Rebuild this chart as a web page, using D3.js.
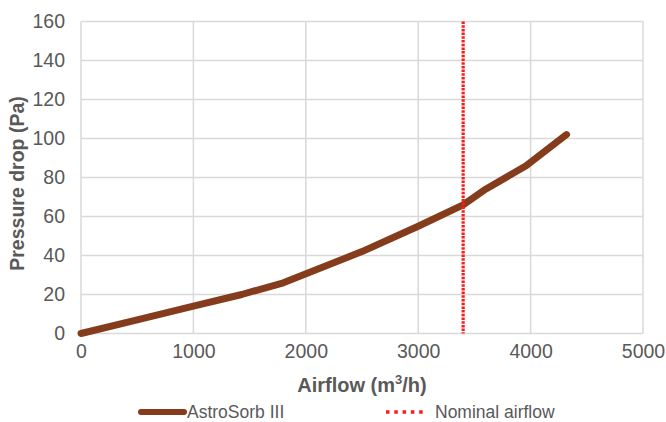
<!DOCTYPE html>
<html>
<head>
<meta charset="utf-8">
<script src="https://cdn.jsdelivr.net/npm/d3@7"></script>
<style>
  body { margin: 0; background: #fff; }
  text { font-family: "Liberation Sans", Arial, sans-serif; }
</style>
</head>
<body>
<svg id="chart" width="666" height="422"></svg>
<script>
// data
var airflow = [0, 500, 1000, 1430, 1800, 2500, 3000, 3400, 3600, 3960, 4320];
var pressure = [0, 7, 14, 20, 26, 42, 55, 66, 74, 86, 102];
var nominalAirflow = 3400;
var xTicks = [0, 1000, 2000, 3000, 4000, 5000];
var yTicks = [0, 20, 40, 60, 80, 100, 120, 140, 160];
var seriesNames = ["AstroSorb III", "Nominal airflow"];

var svg = d3.select('#chart');
// note: "top" is taken by window.top, so plot edges get their own names
var plotL = 81, plotR = 643, plotT = 21.5, plotB = 333.5;

var x = d3.scaleLinear().domain([0, 5000]).range([plotL, plotR]);
var y = d3.scaleLinear().domain([0, 160]).range([plotB, plotT]);

// grid
svg.append('g').selectAll('line').data(yTicks).enter().append('line')
    .attr('x1', plotL).attr('x2', plotR)
    .attr('y1', function(d) { return y(d); })
    .attr('y2', function(d) { return y(d); })
    .attr('stroke', '#d9d9d9').attr('stroke-width', 1.5);
svg.append('g').selectAll('line').data(xTicks).enter().append('line')
    .attr('y1', plotT).attr('y2', plotB)
    .attr('x1', function(d) { return x(d); })
    .attr('x2', function(d) { return x(d); })
    .attr('stroke', '#d9d9d9').attr('stroke-width', 1.5);

// tick labels
var yAxis = svg.append('g').attr('transform', 'translate(' + plotL + ',0)')
    .call(d3.axisLeft(y).tickValues(yTicks).tickSize(0).tickPadding(16));
var xAxis = svg.append('g').attr('transform', 'translate(0,' + plotB + ')')
    .call(d3.axisBottom(x).tickValues(xTicks).tickSize(0).tickPadding(11).tickFormat(d3.format('d')));
[yAxis, xAxis].forEach(function(a) {
    a.select('.domain').remove();
    a.selectAll('text').attr('fill', '#595959').style('font-size', '19.5px')
        .style('font-family', '"Liberation Sans", Arial, sans-serif');
});

// curve
var pts = airflow.map(function(v, i) { return [v, pressure[i]]; });
var line = d3.line().x(function(d) { return x(d[0]); }).y(function(d) { return y(d[1]); });
svg.append('path').datum(pts).attr('d', line)
    .attr('fill', 'none').attr('stroke', '#843c1c')
    .attr('stroke-width', 7).attr('stroke-linecap', 'round').attr('stroke-linejoin', 'round');

// nominal airflow
svg.append('line')
    .attr('x1', x(nominalAirflow)).attr('x2', x(nominalAirflow))
    .attr('y1', plotT).attr('y2', plotB)
    .attr('stroke', '#ff1a1a').attr('stroke-width', 3.2).attr('stroke-dasharray', '2.5 1.2');

// axis titles
svg.append('text').attr('x', (plotL + plotR) / 2).attr('y', 392)
    .attr('text-anchor', 'middle').attr('fill', '#595959')
    .style('font-size', '20px').style('font-weight', 'bold')
    .html('Airflow (m<tspan dy="-8" font-size="13px">3</tspan><tspan dy="8">/h)</tspan>');
svg.append('text').attr('transform', 'translate(24,' + ((plotT + plotB) / 2 + 6) + ') rotate(-90)')
    .attr('text-anchor', 'middle').attr('fill', '#595959')
    .style('font-size', '19.5px').style('font-weight', 'bold')
    .text('Pressure drop (Pa)');

// legend
var lg = svg.append('g');
lg.append('line').attr('x1', 141).attr('x2', 184).attr('y1', 412).attr('y2', 412)
    .attr('stroke', '#843c1c').attr('stroke-width', 6).attr('stroke-linecap', 'round');
lg.append('text').attr('x', 187).attr('y', 418).attr('fill', '#595959')
    .style('font-size', '17.5px').text(seriesNames[0]);
lg.append('line').attr('x1', 386).attr('x2', 425).attr('y1', 412).attr('y2', 412)
    .attr('stroke', '#ff1a1a').attr('stroke-width', 3.5).attr('stroke-dasharray', '3.5 4.8');
lg.append('text').attr('x', 435).attr('y', 418).attr('fill', '#595959')
    .style('font-size', '17.5px').text(seriesNames[1]);
</script>
</body>
</html>
